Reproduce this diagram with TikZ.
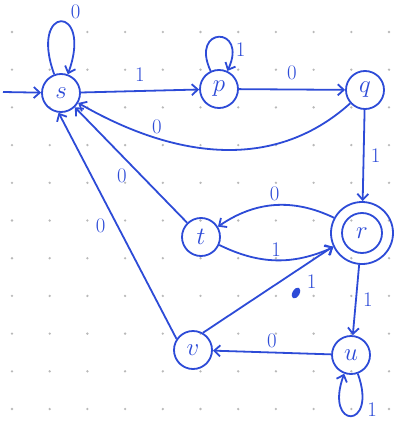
\documentclass[tikz,border=0pt]{standalone}
\usepackage{xcolor}
\usepackage{tikz}
\usetikzlibrary{arrows.meta, positioning}

\definecolor{ink}{RGB}{45,75,215}

\begin{document}
\begin{tikzpicture}[x=1pt, y=1pt, >={Straight Barb[length=6pt,width=11pt]},
    every node/.style={font=\huge, text=ink},
    trang/.style={circle, draw=ink, line width=1.8pt, minimum size=38pt, inner sep=0pt, font=\Huge},
    canh/.style={->, draw=ink, line width=1.8pt}]

    \useasboundingbox (0,0) rectangle (396,-433);

    % =================================================================
    % DOTTED PAPER
    % =================================================================
    \foreach \i in {0,...,10} {
        \foreach \j in {0,...,10} {
            \fill[gray!55] (12+37.7*\i, -32-37.7*\j) circle (1.3);
        }
    }

    % =================================================================
    % STATES
    % =================================================================
    \node[trang] (s) at (61,-93) {$s$};
    \node[trang] (p) at (219,-89) {$p$};
    \node[trang] (q) at (365,-90) {$q$};
    \node[trang, minimum size=62pt] (r) at (362,-233) {$r$};
    \draw[ink, line width=1.8pt] (r.center) circle (20);
    \node[trang] (t) at (201,-237) {$t$};
    \node[trang] (u) at (351,-355) {$u$};
    \node[trang] (v) at (193,-350) {$v$};

    % start arrow
    \coordinate (start) at (3,-92);
    \draw[canh] (start) -- (s);

    % =================================================================
    % TRANSITIONS
    % =================================================================
    % top row
    \draw[canh] (s) -- node[above=5pt] {1} (p);
    \draw[canh] (p) -- node[above=5pt] {0} (q);
    \draw[canh] (q) to[out=222, in=-30] node[pos=0.72, above] {0} (s);
    \draw[canh] (q) -- node[right=3pt] {1} (r);

    % loops
    \draw[canh] (s) to[out=110, in=70, min distance=75pt] node[pos=0.6, above right] {0} (s);
    \draw[canh] (p) to[out=115, in=65, min distance=50pt] node[pos=0.8, right] {1} (p);
    \draw[canh] (u) to[out=-70, in=-110, min distance=60pt] node[pos=0.3, right=3pt] {1} (u);

    % back to s
    \draw[canh] (t) -- node[below left] {0} (s);
    \draw[canh] (v.146) -- node[left=8pt] {0} (s.-97);

    % between t and r
    \draw[canh] (r) to[bend right=30] node[above] {0} (t);
    \draw[canh] (t) to[bend right=25] node[above] {1} (r);

    % lower part
    \draw[canh] (v.60) -- node[pos=0.75, below right=3pt] {1} (r.205);
    \fill[ink, rotate around={60:(296,-293)}] (296,-293) ellipse (6 and 3.5);
    \draw[canh] (r) -- node[right=3pt] {1} (u);
    \draw[canh] (u) -- node[above] {0} (v);

\end{tikzpicture}
\end{document}
